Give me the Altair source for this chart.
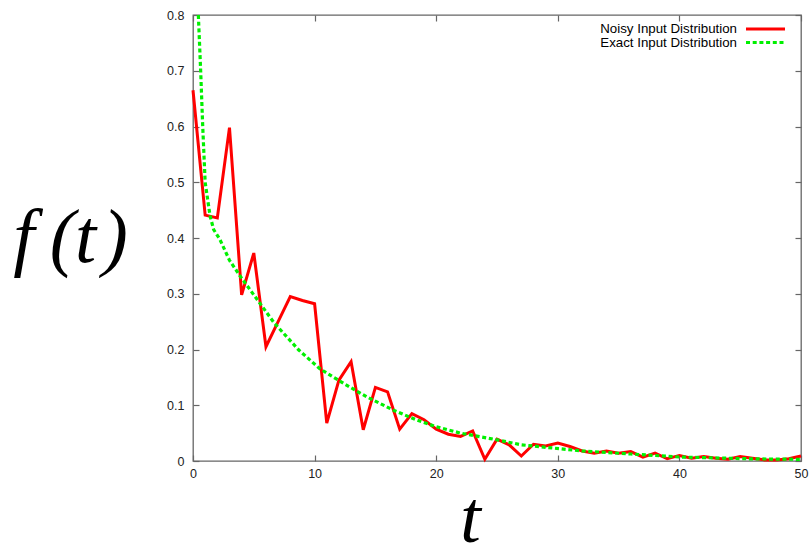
import altair as alt
import pandas as pd

# Noisy input distribution, sampled at t = 0..50
noisy_t = list(range(0, 51))
noisy_f = [0.665, 0.441, 0.436, 0.598, 0.298, 0.373, 0.205, 0.250, 0.295, 0.288,
           0.282, 0.068, 0.145, 0.178, 0.056, 0.132, 0.124, 0.057, 0.085, 0.074,
           0.057, 0.048, 0.044, 0.054, 0.003, 0.039, 0.029, 0.009, 0.030, 0.027,
           0.032, 0.026, 0.018, 0.014, 0.018, 0.014, 0.017, 0.007, 0.014, 0.004,
           0.010, 0.005, 0.008, 0.005, 0.003, 0.008, 0.005, 0.002, 0.002, 0.004,
           0.009]

# Exact input distribution
exact_t = [0.44, 0.63, 0.8, 1.0, 1.4, 1.7, 2.2, 3.0, 3.9, 5.1, 6.7, 8.7, 10.4,
           12.4, 14.3, 16.5, 18.4, 20.0, 22.0, 25.0, 27.0, 32.0, 36.0, 40.0,
           46.0, 50.0]
exact_f = [0.80, 0.70, 0.60, 0.50, 0.44, 0.415, 0.398, 0.36, 0.331, 0.295,
           0.247, 0.199, 0.166, 0.139, 0.115, 0.091, 0.0735, 0.0615, 0.050,
           0.038, 0.029, 0.018, 0.0126, 0.0072, 0.0038, 0.003]

series_names = ["Noisy Input Distribution", "Exact Input Distribution"]
x_ticks = [0, 10, 20, 30, 40, 50]
y_ticks = [0, 0.1, 0.2, 0.3, 0.4, 0.5, 0.6, 0.7, 0.8]

noisy_df = pd.DataFrame({"t": noisy_t, "f": noisy_f})
exact_df = pd.DataFrame({"t": exact_t, "f": exact_f})
legend_df = pd.DataFrame({"series": series_names})

W, H = 608, 446
RED = "#ff0000"
GREEN = "#00f000"
AXC = "#666666"
DASH = [4, 2.7]

xscale = alt.Scale(domain=[0, 50], nice=False, zero=False)
yscale = alt.Scale(domain=[0, 0.8], nice=False)

bottom_axis = alt.Axis(
    orient="bottom", values=x_ticks, domain=False, grid=False,
    offset=-6, tickSize=6, tickColor=AXC, tickWidth=1.2,
    labelPadding=6, labelFont="Liberation Sans", labelFontSize=12.5,
    labelColor="#222222", title="t", titleFont="Liberation Serif",
    titleFontStyle="italic", titleFontWeight="normal", titleFontSize=74,
    titleColor="#000000", titleX=277, titleY=86, titleAlign="center",
    titleBaseline="alphabetic", labelFlush=False)
left_axis = alt.Axis(
    orient="left", values=y_ticks, domain=False, grid=False,
    offset=-6, tickSize=6, tickColor=AXC, tickWidth=1.2,
    labelPadding=9, labelFont="Liberation Sans", labelFontSize=12.5,
    labelColor="#222222", labelExpr="datum.value == 0 ? '0' : format(datum.value, '.1f')",
    title="f\u2009(t\u200a)", titleFont="Liberation Serif", titleFontStyle="italic",
    titleFontWeight="normal", titleFontSize=76, titleColor="#000000",
    titleAngle=0, titleX=-129, titleY=223, titleAlign="center",
    titleBaseline="middle", labelFlush=False)
top_axis = alt.Axis(orient="top", values=x_ticks, domain=False, grid=False,
                    offset=-6, tickSize=6, tickColor=AXC, tickWidth=1.2,
                    labels=False, title=None)
right_axis = alt.Axis(orient="right", values=y_ticks, domain=False, grid=False,
                      offset=-6, tickSize=6, tickColor=AXC, tickWidth=1.2,
                      labels=False, title=None)

noisy = alt.Chart(noisy_df).mark_line(color=RED, strokeWidth=3, strokeJoin="miter").encode(
    x=alt.X("t:Q", scale=xscale, axis=bottom_axis),
    y=alt.Y("f:Q", scale=yscale, axis=left_axis),
)
exact = alt.Chart(exact_df).mark_line(color=GREEN, strokeWidth=3.2,
                                      strokeDash=DASH, clip=True).encode(
    x=alt.X("t:Q", scale=xscale, axis=top_axis),
    y=alt.Y("f:Q", scale=yscale, axis=right_axis),
)

leg_base = alt.Chart(legend_df)
leg_text1 = leg_base.transform_filter(alt.datum.series == series_names[0]).mark_text(
    align="right", baseline="middle", font="Liberation Sans", fontSize=13.3, color="#000000"
).encode(text="series:N", x=alt.value(544), y=alt.value(14))
leg_text2 = leg_base.transform_filter(alt.datum.series == series_names[1]).mark_text(
    align="right", baseline="middle", font="Liberation Sans", fontSize=13.3, color="#000000"
).encode(text="series:N", x=alt.value(544), y=alt.value(27.5))
leg_line1 = leg_base.transform_filter(alt.datum.series == series_names[0]).mark_rule(
    color=RED, strokeWidth=3
).encode(x=alt.value(553), x2=alt.value(592), y=alt.value(14))
leg_line2 = leg_base.transform_filter(alt.datum.series == series_names[1]).mark_rule(
    color=GREEN, strokeWidth=3, strokeDash=DASH
).encode(x=alt.value(553), x2=alt.value(592), y=alt.value(27.5))

chart = alt.layer(noisy, exact, leg_text1, leg_text2, leg_line1, leg_line2).resolve_axis(
    x="independent", y="independent"
).properties(
    width=W, height=H,
    autosize=alt.AutoSizeParams(type="none"),
    padding={"left": 193, "top": 15, "right": 10, "bottom": 85},
    background="#ffffff",
).configure_view(
    stroke=AXC, strokeWidth=1.3
)

chart.save("out.html", embed_options={"renderer": "svg", "actions": False})
